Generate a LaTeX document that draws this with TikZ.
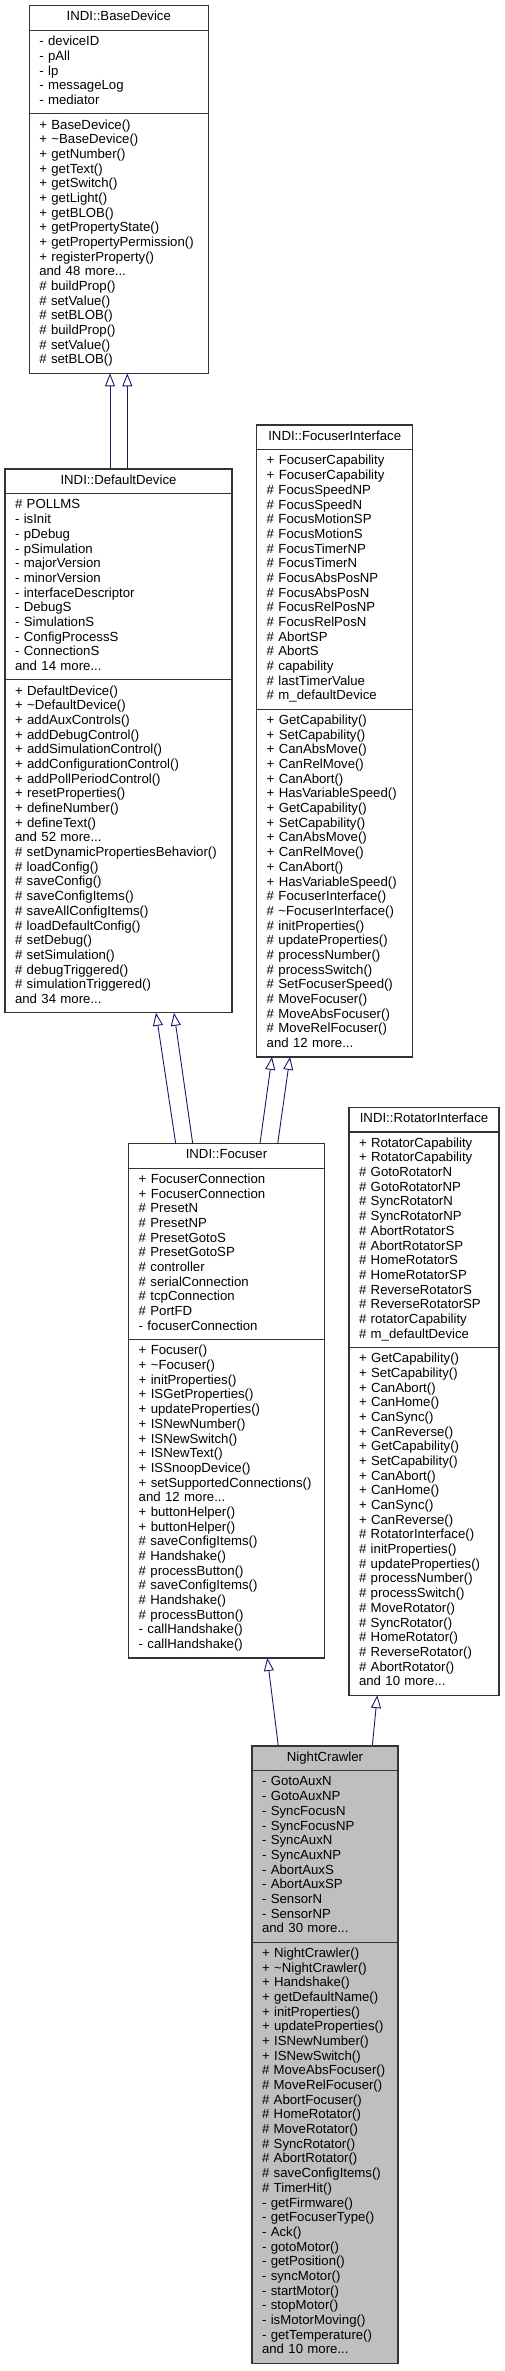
\documentclass[tikz,border=0pt]{standalone}
\usepackage{fontspec}
\setmainfont{Liberation Sans}
\usetikzlibrary{arrows.meta,positioning,calc}
\definecolor{edgeBlue}{RGB}{25,25,112}
\definecolor{nodeGray}{RGB}{191,191,191}
\setlength{\parindent}{0pt}
\newcommand{\umlfont}{\fontsize{13.2}{14.68}\selectfont}
\newcommand{\tl}{\textasciitilde}

\tikzset{
  cls/.style={draw=black!80, line width=1.3pt, fill=white, outer sep=0pt,
    inner xsep=10pt, inner ysep=5pt, font=\umlfont, anchor=north west,
    execute at begin node=\strut, execute at end node=\strut},
  clstitle/.style={cls, align=center},
  clsbody/.style={cls, align=left},
  inh/.style={draw=edgeBlue, line width=0.9pt,
    -{Triangle[length=13pt, width=10pt, fill=white]}},
}

\begin{document}
\begin{tikzpicture}[x=1pt, y=-1pt]
  \useasboundingbox (0,0) rectangle (504,2371);

  % INDI::BaseDevice
  \node[clstitle, text width=159pt] (bd) at (29.3,5.7) {INDI::BaseDevice};
  \node[clsbody, text width=159pt, below=0pt of bd] (bd-attr)
    {- deviceID\\- pAll\\- lp\\- messageLog\\- mediator};
  \node[clsbody, text width=159pt, below=0pt of bd-attr] (bd-ops)
    {+ BaseDevice()\\+ \tl BaseDevice()\\+ getNumber()\\+ getText()\\+ getSwitch()\\
     + getLight()\\+ getBLOB()\\+ getPropertyState()\\+ getPropertyPermission()\\
     + registerProperty()\\and 48 more...\\\# buildProp()\\\# setValue()\\\# setBLOB()\\
     \# buildProp()\\\# setValue()\\\# setBLOB()};

  % INDI::DefaultDevice
  \node[clstitle, text width=207pt] (dd) at (5,469) {INDI::DefaultDevice};
  \node[clsbody, text width=207pt, below=0pt of dd] (dd-attr)
    {\# POLLMS\\- isInit\\- pDebug\\- pSimulation\\- majorVersion\\- minorVersion\\
     - interfaceDescriptor\\- DebugS\\- SimulationS\\- ConfigProcessS\\- ConnectionS\\
     and 14 more...};
  \node[clsbody, text width=207pt, below=0pt of dd-attr] (dd-ops)
    {+ DefaultDevice()\\+ \tl DefaultDevice()\\+ addAuxControls()\\+ addDebugControl()\\
     + addSimulationControl()\\+ addConfigurationControl()\\+ addPollPeriodControl()\\
     + resetProperties()\\+ defineNumber()\\+ defineText()\\and 52 more...\\
     \# setDynamicPropertiesBehavior()\\\# loadConfig()\\\# saveConfig()\\
     \# saveConfigItems()\\\# saveAllConfigItems()\\\# loadDefaultConfig()\\
     \# setDebug()\\\# setSimulation()\\\# debugTriggered()\\\# simulationTriggered()\\
     and 34 more...};

  % INDI::FocuserInterface
  \node[clstitle, text width=136pt] (fi) at (256.7,425) {INDI::FocuserInterface};
  \node[clsbody, text width=136pt, below=0pt of fi] (fi-attr)
    {+ FocuserCapability\\+ FocuserCapability\\\# FocusSpeedNP\\\# FocusSpeedN\\
     \# FocusMotionSP\\\# FocusMotionS\\\# FocusTimerNP\\\# FocusTimerN\\
     \# FocusAbsPosNP\\\# FocusAbsPosN\\\# FocusRelPosNP\\\# FocusRelPosN\\
     \# AbortSP\\\# AbortS\\\# capability\\\# lastTimerValue\\\# m\_defaultDevice};
  \node[clsbody, text width=136pt, below=0pt of fi-attr] (fi-ops)
    {+ GetCapability()\\+ SetCapability()\\+ CanAbsMove()\\+ CanRelMove()\\
     + CanAbort()\\+ HasVariableSpeed()\\+ GetCapability()\\+ SetCapability()\\
     + CanAbsMove()\\+ CanRelMove()\\+ CanAbort()\\+ HasVariableSpeed()\\
     \# FocuserInterface()\\\# \tl FocuserInterface()\\\# initProperties()\\
     \# updateProperties()\\\# processNumber()\\\# processSwitch()\\
     \# SetFocuserSpeed()\\\# MoveFocuser()\\\# MoveAbsFocuser()\\
     \# MoveRelFocuser()\\and 12 more...};

  % INDI::Focuser
  \node[clstitle, text width=175.6pt] (fc) at (128.7,1143.5) {INDI::Focuser};
  \node[clsbody, text width=175.6pt, below=0pt of fc] (fc-attr)
    {+ FocuserConnection\\+ FocuserConnection\\\# PresetN\\\# PresetNP\\
     \# PresetGotoS\\\# PresetGotoSP\\\# controller\\\# serialConnection\\
     \# tcpConnection\\\# PortFD\\- focuserConnection};
  \node[clsbody, text width=175.6pt, below=0pt of fc-attr] (fc-ops)
    {+ Focuser()\\+ \tl Focuser()\\+ initProperties()\\+ ISGetProperties()\\
     + updateProperties()\\+ ISNewNumber()\\+ ISNewSwitch()\\+ ISNewText()\\
     + ISSnoopDevice()\\+ setSupportedConnections()\\and 12 more...\\
     + buttonHelper()\\+ buttonHelper()\\\# saveConfigItems()\\\# Handshake()\\
     \# processButton()\\\# saveConfigItems()\\\# Handshake()\\\# processButton()\\
     - callHandshake()\\- callHandshake()};

  % INDI::RotatorInterface
  \node[clstitle, text width=130pt] (ri) at (349,1107.3) {INDI::RotatorInterface};
  \node[clsbody, text width=130pt, below=0pt of ri] (ri-attr)
    {+ RotatorCapability\\+ RotatorCapability\\\# GotoRotatorN\\\# GotoRotatorNP\\
     \# SyncRotatorN\\\# SyncRotatorNP\\\# AbortRotatorS\\\# AbortRotatorSP\\
     \# HomeRotatorS\\\# HomeRotatorSP\\\# ReverseRotatorS\\\# ReverseRotatorSP\\
     \# rotatorCapability\\\# m\_defaultDevice};
  \node[clsbody, text width=130pt, below=0pt of ri-attr] (ri-ops)
    {+ GetCapability()\\+ SetCapability()\\+ CanAbort()\\+ CanHome()\\+ CanSync()\\
     + CanReverse()\\+ GetCapability()\\+ SetCapability()\\+ CanAbort()\\
     + CanHome()\\+ CanSync()\\+ CanReverse()\\\# RotatorInterface()\\
     \# initProperties()\\\# updateProperties()\\\# processNumber()\\
     \# processSwitch()\\\# MoveRotator()\\\# SyncRotator()\\\# HomeRotator()\\
     \# ReverseRotator()\\\# AbortRotator()\\and 10 more...};

  % NightCrawler
  \node[clstitle, fill=nodeGray, text width=126pt] (nc) at (252,1746) {NightCrawler};
  \node[clsbody, fill=nodeGray, text width=126pt, below=0pt of nc] (nc-attr)
    {- GotoAuxN\\- GotoAuxNP\\- SyncFocusN\\- SyncFocusNP\\- SyncAuxN\\- SyncAuxNP\\
     - AbortAuxS\\- AbortAuxSP\\- SensorN\\- SensorNP\\and 30 more...};
  \node[clsbody, fill=nodeGray, text width=126pt, below=0pt of nc-attr] (nc-ops)
    {+ NightCrawler()\\+ \tl NightCrawler()\\+ Handshake()\\+ getDefaultName()\\
     + initProperties()\\+ updateProperties()\\+ ISNewNumber()\\+ ISNewSwitch()\\
     \# MoveAbsFocuser()\\\# MoveRelFocuser()\\\# AbortFocuser()\\\# HomeRotator()\\
     \# MoveRotator()\\\# SyncRotator()\\\# AbortRotator()\\\# saveConfigItems()\\
     \# TimerHit()\\- getFirmware()\\- getFocuserType()\\- Ack()\\- gotoMotor()\\
     - getPosition()\\- syncMotor()\\- startMotor()\\- stopMotor()\\
     - isMotorMoving()\\- getTemperature()\\and 10 more...};

  % inheritance
  \draw[inh] ($(dd.north west)+(105,0)$) -- ($(bd-ops.south west)+(80.7,0)$);
  \draw[inh] ($(dd.north west)+(122.3,0)$) -- ($(bd-ops.south west)+(98,0)$);
  \draw[inh] ($(fc.north west)+(47,0)$) -- ($(dd-ops.south west)+(151,0)$);
  \draw[inh] ($(fc.north west)+(64,0)$) -- ($(dd-ops.south west)+(169,0)$);
  \draw[inh] ($(fc.north west)+(131.3,0)$) -- ($(fi-ops.south west)+(15.3,0)$);
  \draw[inh] ($(fc.north west)+(149,0)$) -- ($(fi-ops.south west)+(33.3,0)$);
  \draw[inh] ($(nc.north west)+(26.3,0)$) -- ($(fc-ops.south west)+(138.6,0)$);
  \draw[inh] ($(nc.north west)+(120.3,0)$) -- ($(ri-ops.south west)+(28.3,0)$);
\end{tikzpicture}
\end{document}
